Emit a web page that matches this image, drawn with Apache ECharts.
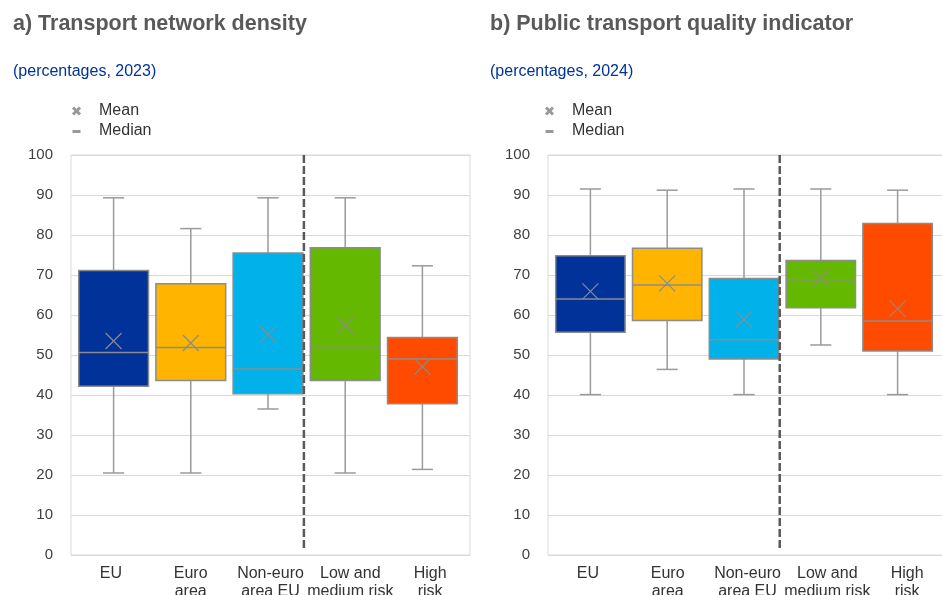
<!DOCTYPE html>
<html><head><meta charset="utf-8">
<script src="https://cdn.jsdelivr.net/npm/echarts@6/dist/echarts.min.js"></script>
<style>html,body{margin:0;padding:0;background:#fff}#c{width:942px;height:595px}</style>
</head><body><div id="c"></div>
<script>
const categories = ['EU', 'Euro\narea', 'Non-euro\narea EU', 'Low and\nmedium risk', 'High\nrisk'];
const boxColors = ['#003299', '#FFB400', '#00B1EA', '#65B800', '#FF4B00'];

// a) Transport network density (percentages, 2023)
const aMin    = [20.5, 20.5, 36.5, 20.5, 21.4];
const aQ1     = [42.2, 43.6, 40.3, 43.6, 37.8];
const aMedian = [50.6, 51.9, 46.5, 51.9, 49.0];
const aQ3     = [71.1, 67.8, 75.5, 76.8, 54.4];
const aMax    = [89.3, 81.6, 89.3, 89.3, 72.3];
const aMean   = [53.5, 53.0, 55.2, 57.5, 47.1];

// b) Public transport quality indicator (percentages, 2024)
const bMin    = [40.1, 46.4, 40.1, 52.5, 40.1];
const bQ1     = [55.7, 58.6, 49.0, 61.8, 51.0];
const bMedian = [64.0, 67.5, 53.8, 68.8, 58.5];
const bQ3     = [74.8, 76.7, 69.1, 73.6, 82.9];
const bMax    = [91.5, 91.2, 91.5, 91.5, 91.2];
const bMean   = [65.9, 67.9, 58.9, 69.2, 61.6];

const titles = ['a) Transport network density', 'b) Public transport quality indicator'];
const subtitles = ['(percentages, 2023)', '(percentages, 2024)'];
const legendNames = ['Mean', 'Median'];

function rows(mn, q1, md, q3, mx, mean) {
  return categories.map((_, i) => [i, mn[i], q1[i], md[i], q3[i], mx[i], mean[i]]);
}

const GRAY = '#8c8c8c';
const WHISK = '#9a9a9a';

function lineEl(x1, y1, x2, y2, stroke, w, extra) {
  return { type: 'line', shape: { x1, y1, x2, y2 }, style: Object.assign({ stroke, lineWidth: w }, extra || {}) };
}

function renderBox(params, api) {
  const i = api.value(0);
  const band = api.size([1, 0])[0];
  const c = v => api.coord([i, v]);
  const pMin = c(api.value(1)), pQ1 = c(api.value(2)), pMed = c(api.value(3)),
        pQ3 = c(api.value(4)), pMax = c(api.value(5)), pMean = c(api.value(6));
  const cx = pMed[0];
  const hw = band * 0.452, cw = band * 0.137, mk = 8;
  const children = [
    lineEl(cx, pMax[1], cx, pQ3[1], WHISK, 1.5),
    lineEl(cx, pQ1[1], cx, pMin[1], WHISK, 1.5),
    lineEl(cx - cw, pMax[1], cx + cw, pMax[1], WHISK, 1.5),
    lineEl(cx - cw, pMin[1], cx + cw, pMin[1], WHISK, 1.5),
    { type: 'rect', shape: { x: cx - hw, y: pQ3[1], width: 2 * hw, height: pQ1[1] - pQ3[1] },
      style: { fill: boxColors[params.dataIndex], stroke: GRAY, lineWidth: 1.5 } },
    lineEl(cx - hw, pMed[1], cx + hw, pMed[1], GRAY, 1.5),
    lineEl(cx - mk, pMean[1] - mk, cx + mk, pMean[1] + mk, GRAY, 1.2),
    lineEl(cx - mk, pMean[1] + mk, cx + mk, pMean[1] - mk, GRAY, 1.2)
  ];
  if (params.dataIndex === 2) {
    const top = c(100), bot = c(0);
    children.push(lineEl(cx + band * 0.465, top[1], cx + band * 0.465, bot[1] - 4, '#595959', 2.5, { lineDash: [8, 3] }));
  }
  return { type: 'group', children };
}

const frameLefts = [71, 548];
const boxLefts = [75, 552];
const boxWidths = [386, 384];

const grids = [], xAxes = [], yAxes = [];
[0, 1].forEach(p => {
  grids.push({ left: frameLefts[p], top: 155, width: 399, height: 400, show: true,
               borderColor: '#d9d9d9', borderWidth: 1, backgroundColor: 'transparent', outerBoundsMode: 'none', containLabel: false });
  grids.push({ left: boxLefts[p], top: 155, width: boxWidths[p], height: 400, outerBoundsMode: 'none', containLabel: false });
  xAxes.push({ gridIndex: 2 * p, type: 'category', data: categories,
    axisLine: { show: false }, axisTick: { show: false }, splitLine: { show: false },
    axisLabel: { color: '#333333', fontSize: 16, lineHeight: 18, margin: 10, fontFamily: 'Liberation Sans, Arial, sans-serif', interval: 0 } });
  xAxes.push({ gridIndex: 2 * p + 1, type: 'category', data: categories, show: false });
  yAxes.push({ gridIndex: 2 * p, type: 'value', min: 0, max: 100, interval: 10,
    axisLine: { show: false }, axisTick: { show: false },
    splitLine: { show: true, lineStyle: { color: '#d9d9d9', width: 1 } },
    axisLabel: { color: '#404040', fontSize: 15, margin: 18, fontFamily: 'Liberation Sans, Arial, sans-serif' } });
  yAxes.push({ gridIndex: 2 * p + 1, type: 'value', min: 0, max: 100, interval: 10, show: false, splitLine: { show: false } });
});

const graphics = [];
const panelX = [13, 490];
const legendX = [73, 546];
[0, 1].forEach(p => {
  graphics.push({ type: 'text', x: panelX[p], y: 24, style: { text: titles[p], fill: '#595959',
    font: 'bold 21.5px "Liberation Sans", Arial, sans-serif', verticalAlign: 'middle' } });
  graphics.push({ type: 'text', x: panelX[p], y: 72, style: { text: subtitles[p], fill: '#003299',
    font: '16px "Liberation Sans", Arial, sans-serif', verticalAlign: 'middle' } });
  const lx = legendX[p];
  graphics.push({ type: 'line', shape: { x1: lx, y1: 107.5, x2: lx + 7, y2: 114.5 }, style: { stroke: '#999', lineWidth: 3 } });
  graphics.push({ type: 'line', shape: { x1: lx, y1: 114.5, x2: lx + 7, y2: 107.5 }, style: { stroke: '#999', lineWidth: 3 } });
  graphics.push({ type: 'rect', shape: { x: lx - 0.5, y: 130, width: 8, height: 3 }, style: { fill: '#999' } });
  graphics.push({ type: 'text', x: lx + 26, y: 111, style: { text: legendNames[0], fill: '#333333',
    font: '16px "Liberation Sans", Arial, sans-serif', verticalAlign: 'middle' } });
  graphics.push({ type: 'text', x: lx + 26, y: 131, style: { text: legendNames[1], fill: '#333333',
    font: '16px "Liberation Sans", Arial, sans-serif', verticalAlign: 'middle' } });
});

const chart = echarts.init(document.getElementById('c'), null, { renderer: 'canvas' });
chart.setOption({
  animation: false,
  backgroundColor: '#ffffff',
  grid: grids,
  xAxis: xAxes,
  yAxis: yAxes,
  graphic: graphics,
  series: [
    { type: 'custom', xAxisIndex: 1, yAxisIndex: 1, renderItem: renderBox, clip: false,
      encode: { x: 0, y: [1, 2, 3, 4, 5, 6] }, data: rows(aMin, aQ1, aMedian, aQ3, aMax, aMean) },
    { type: 'custom', xAxisIndex: 3, yAxisIndex: 3, renderItem: renderBox, clip: false,
      encode: { x: 0, y: [1, 2, 3, 4, 5, 6] }, data: rows(bMin, bQ1, bMedian, bQ3, bMax, bMean) }
  ]
});
</script>
</body></html>
